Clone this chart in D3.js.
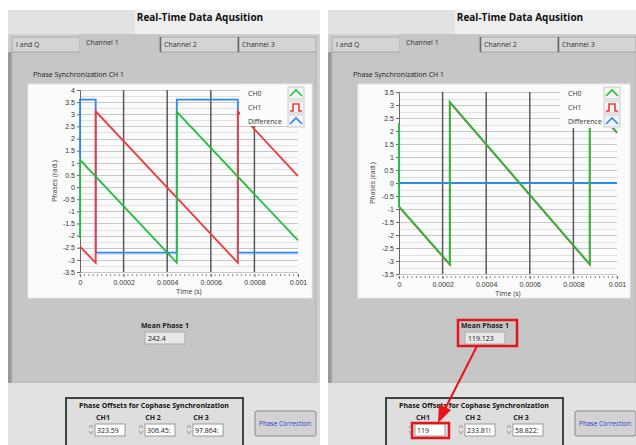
<!DOCTYPE html>
<html>
<head>
<meta charset="utf-8">
<script src="https://cdn.jsdelivr.net/npm/d3@7"></script>
<style>
body { margin: 0; background: #fff; }
svg { display: block; font-family: "Open Sans", "DejaVu Sans", sans-serif; }
</style>
</head>
<body>
<svg width="636" height="445"></svg>
<script>
// ---- data ----
var appTitle = "Real-Time Data Aqusition";
var tabNames = ["I and Q", "Channel 1", "Channel 2", "Channel 3"];
var plotTitle = "Phase Synchronization CH 1";
var seriesNames = ["CH0", "CH1", "Difference"];
var seriesColors = ["#22c03c", "#f0383c", "#2a8af0"];
var xTicks = [0, 0.0002, 0.0004, 0.0006, 0.0008, 0.001];
var yTicksLeft = [-3.5, -3, -2.5, -2, -1.5, -1, -0.5, 0, 0.5, 1, 1.5, 2, 2.5, 3, 3.5, 4];
var yTicksRight = [-3.5, -3, -2.5, -2, -1.5, -1, -0.5, 0, 0.5, 1, 1.5, 2, 2.5, 3, 3.5];

// before correction: [time (s), phase (rad)]
var leftCH0 = [[0, -2.1], [0, 1.12], [0.000444, -3.12], [0.000444, 3.1], [0.001, -2.2]];
var leftCH1 = [[0, -2.45], [0.000072, -3.12], [0.000072, 3.12], [0.000724, -3.12], [0.000724, 3.12], [0.001, 0.45]];
var leftDiff = [[0, 1.2], [0, 3.6], [0.000072, 3.6], [0.000072, -2.7], [0.000444, -2.7], [0.000444, 3.6],
  [0.000724, 3.6], [0.000724, -2.7], [0.001, -2.7]];

// after correction
var rightCH0 = [[0, 2.3], [0, -0.9], [0.000233, -3.12], [0.000233, 3.12], [0.000875, -3.12], [0.000875, 3.12], [0.001, 1.95]];
var rightCH1 = [[0, -0.92], [0.000233, -3.14], [0.000233, 3.1], [0.000875, -3.14], [0.000875, 3.1], [0.001, 1.93]];
var rightDiff = [[0, 0.4], [0, 0], [0.001, 0]];

var meanPhase = ["242.4", "119.123"];
var offsetLabels = ["CH1", "CH 2", "CH 3"];
var offsetsLeft = ["323.59\u00a0", "306.45:", "97.864:"];
var offsetsRight = ["119", "233.81!", "58.822:"];

var svg = d3.select("svg");

function drawShot(ox, cfg) {
  var g = svg.append("g").attr("transform", "translate(" + ox + ",0)");

  // window chrome
  g.append("rect").attr("x", 8).attr("y", 10).attr("width", 312).attr("height", 435).attr("fill", "#e2e2e2");
  g.append("rect").attr("x", 135).attr("y", 10).attr("width", 185).attr("height", 24).attr("fill", "#efefef");
  g.append("text").attr("x", 200).attr("y", 21).attr("text-anchor", "middle")
    .attr("font-size", 10).attr("font-weight", "bold").attr("fill", "#111").text(appTitle);

  // tab control
  g.append("rect").attr("x", 8).attr("y", 34).attr("width", 312).attr("height", 349).attr("fill", "#cfcfcf");
  g.append("rect").attr("x", 8).attr("y", 52).attr("width", 4).attr("height", 331).attr("fill", "#9a9a9a");
  g.append("rect").attr("x", 12).attr("y", 52).attr("width", 304).attr("height", 330).attr("fill", "#c6c6c6")
    .attr("stroke", "#b4b4b4");
  var tabX = [12, 80, 160, 238, 316];
  tabNames.forEach(function (t, i) {
    var active = i === 1;
    g.append("rect").attr("x", tabX[i]).attr("y", active ? 34 : 37).attr("width", tabX[i + 1] - tabX[i])
      .attr("height", active ? 19 : 15).attr("fill", active ? "#c6c6c6" : "#d4d4d4")
      .attr("stroke", active ? "none" : "#aaa");
    if (i > 1) g.append("line").attr("x1", tabX[i] + 0.5).attr("x2", tabX[i] + 0.5).attr("y1", 37).attr("y2", 52)
      .attr("stroke", "#666").attr("stroke-width", 1.5);
    g.append("text").attr("x", tabX[i] + (active ? 6 : 4)).attr("y", active ? 45 : 47)
      .attr("font-size", 7).attr("fill", "#333").text(t);
  });

  g.append("text").attr("x", cfg.titleX).attr("y", 77).attr("font-size", 7).attr("fill", "#222").text(plotTitle);

  // plot frame
  g.append("rect").attr("x", cfg.frame[0]).attr("y", 84).attr("width", cfg.frame[1] - cfg.frame[0]).attr("height", 214)
    .attr("fill", "#fbfbfb").attr("stroke", "#e8e8e8");

  var x = d3.scaleLinear().domain([0, 0.001]).range([cfg.px[0], cfg.px[1]]);
  var y = d3.scaleLinear().domain(cfg.yDomain).range([cfg.py[1], cfg.py[0]]);

  // horizontal grid (major and minor)
  var minorY = d3.range(cfg.yDomain[0], cfg.yDomain[1] + 0.01, 0.25);
  g.append("g").selectAll("line").data(minorY).join("line")
    .attr("x1", x(0)).attr("x2", x(0.001))
    .attr("y1", function (d) { return Math.round(y(d)) + 0.5; })
    .attr("y2", function (d) { return Math.round(y(d)) + 0.5; })
    .attr("stroke", function (d) { return d % 0.5 === 0 ? "#c8c8c8" : "#e2e2e2"; });
  // vertical grid
  g.append("g").selectAll("line").data(xTicks.slice(1, 5)).join("line")
    .attr("x1", function (d) { return x(d); }).attr("x2", function (d) { return x(d); })
    .attr("y1", y(cfg.yDomain[1])).attr("y2", y(cfg.yDomain[0]))
    .attr("stroke", "#5a5a5a").attr("stroke-width", 1.5);

  // axes
  var yAxis = g.append("g").attr("transform", "translate(" + x(0) + ",0)")
    .call(d3.axisLeft(y).tickValues(cfg.yTicks).tickSize(3).tickPadding(2)
      .tickFormat(function (d) { return String(d); }));
  yAxis.selectAll("text").attr("font-size", 7).attr("fill", "#333");
  yAxis.selectAll("line, path").attr("stroke", "#666");

  var xAxis = g.append("g").attr("transform", "translate(0," + (y(cfg.yDomain[0]) + 2) + ")")
    .call(d3.axisBottom(x).tickValues(xTicks).tickSize(3).tickPadding(3)
      .tickFormat(function (d) { return String(d); }));
  xAxis.select(".domain").remove();
  xAxis.selectAll("text").attr("font-size", 7).attr("fill", "#333");
  xAxis.selectAll("line").attr("stroke", "#666");
  var minorX = d3.range(0, 51).map(function (i) { return i * 0.00002; });
  g.append("g").selectAll("line").data(minorX).join("line")
    .attr("x1", function (d) { return x(d); }).attr("x2", function (d) { return x(d); })
    .attr("y1", y(cfg.yDomain[0]) + 2).attr("y2", y(cfg.yDomain[0]) + 4)
    .attr("stroke", "#888");

  g.append("text").attr("transform", "translate(" + cfg.yLabelX + "," + ((cfg.py[0] + cfg.py[1]) / 2) + ") rotate(-90)")
    .attr("text-anchor", "middle").attr("font-size", 7).attr("fill", "#333").text("Phases (rad.)");
  g.append("text").attr("x", (x(0) + x(0.001)) / 2).attr("y", y(cfg.yDomain[0]) + 22).attr("text-anchor", "middle")
    .attr("font-size", 7).attr("fill", "#333").text("Time (s)");

  // series: difference underneath, then CH1, CH0 on top
  var line = d3.line().x(function (d) { return x(d[0]); }).y(function (d) { return y(d[1]); });
  [[cfg.diff, 2], [cfg.ch1, 1], [cfg.ch0, 0]].forEach(function (s) {
    g.append("path").datum(s[0]).attr("d", line).attr("fill", "none")
      .attr("stroke", seriesColors[s[1]]).attr("stroke-width", 1.8);
  });

  // legend
  var lg = g.append("g").attr("transform", "translate(" + cfg.legend[0] + ",86)");
  lg.append("rect").attr("width", cfg.legend[1]).attr("height", cfg.legend[2]).attr("fill", "#fcfcfc");
  seriesNames.forEach(function (n, i) {
    var yy = 7 + i * 14;
    lg.append("text").attr("x", 8).attr("y", yy + 2.5).attr("font-size", 7).attr("fill", "#333").text(n);
    var ix = cfg.legend[1] - 20;
    lg.append("rect").attr("x", ix).attr("y", yy - 6).attr("width", 16).attr("height", 12)
      .attr("fill", "#f4f4f4").attr("stroke", "#c8c8c8");
    var pts = i === 1
      ? [[ix + 2, yy + 4], [ix + 5, yy + 4], [ix + 5, yy - 3], [ix + 11, yy - 3], [ix + 11, yy + 4], [ix + 14, yy + 4]]
      : [[ix + 2, yy + 3], [ix + 8, yy - 3], [ix + 14, yy + 3]];
    lg.append("path").attr("d", d3.line()(pts)).attr("fill", "none")
      .attr("stroke", seriesColors[i]).attr("stroke-width", 1.6);
  });

  // mean phase indicator
  g.append("text").attr("x", cfg.meanX + 20).attr("y", 328).attr("text-anchor", "middle")
    .attr("font-size", 7).attr("font-weight", "bold").attr("fill", "#222").text("Mean Phase 1");
  g.append("rect").attr("x", cfg.meanX).attr("y", 332).attr("width", 40).attr("height", 12)
    .attr("fill", "#e8e8e8").attr("stroke", "#aaa");
  g.append("text").attr("x", cfg.meanX + 3).attr("y", 341).attr("font-size", 7).attr("fill", "#222").text(cfg.mean);

  // phase offsets cluster
  g.append("rect").attr("x", 66).attr("y", 398).attr("width", 177).attr("height", 50)
    .attr("fill", "#dedede").attr("stroke", "#444").attr("stroke-width", 2);
  g.append("text").attr("x", 154).attr("y", 408).attr("text-anchor", "middle").attr("font-size", 7)
    .attr("font-weight", "bold").attr("fill", "#111").text("Phase Offsets for Cophase Synchronization");
  var fx = [95, 145, 193];
  offsetLabels.forEach(function (l, i) {
    g.append("text").attr("x", fx[i] + 8).attr("y", 420).attr("text-anchor", "middle").attr("font-size", 7)
      .attr("font-weight", "bold").attr("fill", "#222").text(l);
    g.append("path").attr("d", "M" + (fx[i] - 6) + ",428 l2,-3 l2,3 M" + (fx[i] - 6) + ",431 l2,3 l2,-3")
      .attr("fill", "none").attr("stroke", "#999");
    g.append("rect").attr("x", fx[i]).attr("y", 424).attr("width", 30).attr("height", 12)
      .attr("fill", "#fff").attr("stroke", "#999");
    g.append("text").attr("x", fx[i] + 2).attr("y", 433).attr("font-size", 7).attr("fill", "#222").text(cfg.offsets[i]);
  });

  // button
  g.append("rect").attr("x", 255).attr("y", 411).attr("width", 61).attr("height", 25).attr("rx", 2)
    .attr("fill", "#d2d2d2").attr("stroke", "#888");
  g.append("text").attr("x", 285).attr("y", 426).attr("text-anchor", "middle").attr("font-size", 6.5)
    .attr("fill", "#2a3ccc").text("Phase Correction");
  return g;
}

drawShot(0, {
  titleX: 33, frame: [28, 312], px: [80, 298], py: [90, 272], yDomain: [-3.5, 4], yTicks: yTicksLeft,
  yLabelX: 57, ch0: leftCH0, ch1: leftCH1, diff: leftDiff, legend: [240, 68, 40],
  meanX: 145, mean: meanPhase[0], offsets: offsetsLeft
});

var right = drawShot(320, {
  titleX: 33, frame: [38, 310], px: [79, 297], py: [92, 274], yDomain: [-3.5, 3.5], yTicks: yTicksRight,
  yLabelX: 55, ch0: rightCH0, ch1: rightCH1, diff: rightDiff, legend: [240, 64, 42],
  meanX: 145, mean: meanPhase[1], offsets: offsetsRight
});

// annotation on the corrected view
right.append("rect").attr("x", 138).attr("y", 320).attr("width", 59).attr("height", 26)
  .attr("fill", "none").attr("stroke", "#e8141c").attr("stroke-width", 2.5);
right.append("rect").attr("x", 92).attr("y", 423).attr("width", 37).attr("height", 15)
  .attr("fill", "none").attr("stroke", "#e8141c").attr("stroke-width", 2.5);
right.append("line").attr("x1", 157).attr("y1", 346).attr("x2", 125).attr("y2", 409)
  .attr("stroke", "#e8141c").attr("stroke-width", 2);
right.append("path").attr("d", "M118,423 L119,404 L131,410 Z").attr("fill", "#e8141c");
</script>
</body>
</html>
